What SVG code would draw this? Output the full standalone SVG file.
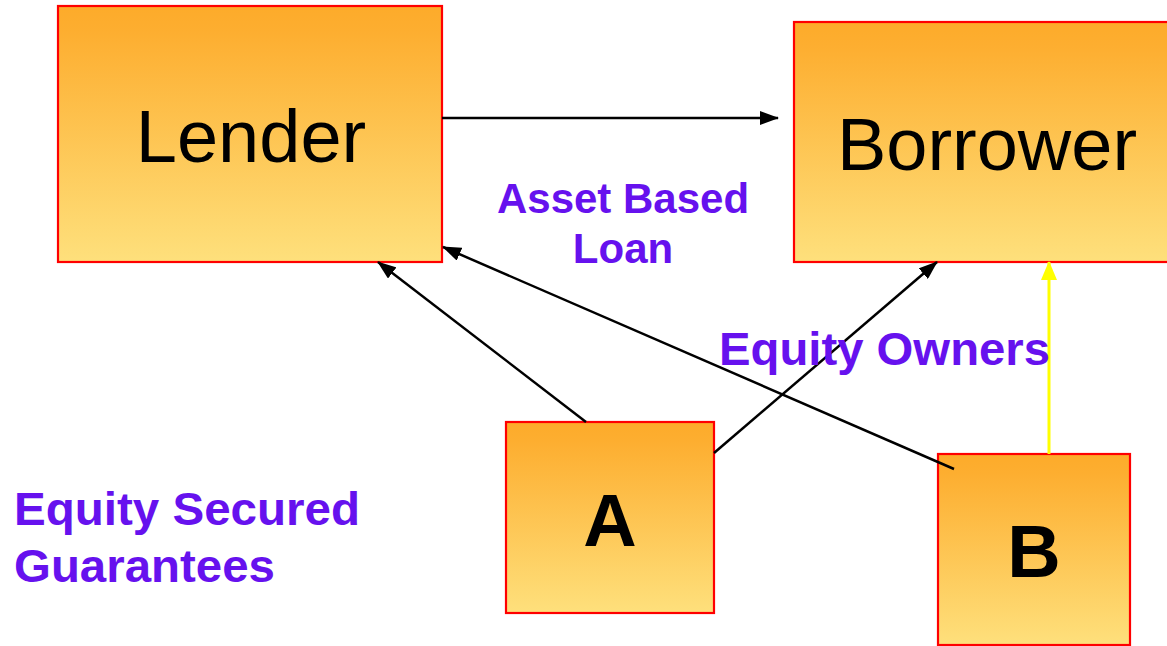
<svg xmlns="http://www.w3.org/2000/svg" width="1167" height="646" viewBox="0 0 1167 646">
<defs>
<linearGradient id="g" x1="0" y1="0" x2="0" y2="1">
<stop offset="0" stop-color="#FDAB2A"/>
<stop offset="0.1" stop-color="#FDAE30"/>
<stop offset="1" stop-color="#FEE07C"/>
</linearGradient>
<marker id="ab" markerWidth="19" markerHeight="14" refX="18" refY="7" orient="auto" markerUnits="userSpaceOnUse">
<path d="M0,0 L19,7 L0,14 Z" fill="#000"/>
</marker>
<marker id="ay" markerWidth="19" markerHeight="16" refX="18" refY="8" orient="auto" markerUnits="userSpaceOnUse">
<path d="M0,0 L19,8 L0,16 Z" fill="#FFFF00"/>
</marker>
</defs>
<style>
.box{fill:url(#g);stroke:#FF0000;stroke-width:2.2}
.big{font-family:"Liberation Sans",Arial,sans-serif;font-size:74px;fill:#000;text-anchor:middle}
.let{font-family:"Liberation Sans",Arial,sans-serif;font-size:74px;font-weight:bold;fill:#000;text-anchor:middle}
.lbl{font-family:"Liberation Sans",Arial,sans-serif;font-weight:bold;fill:#6611EE}
.c{stroke:#000;stroke-width:2.5;fill:none;marker-end:url(#ab)}
.cy{stroke:#FFFF00;stroke-width:3;fill:none;marker-end:url(#ay)}
</style>
<rect width="1167" height="646" fill="#fff"/>
<g id="lender"><rect class="box" x="58" y="6" width="384" height="256"/><text class="big" x="251" y="162">Lender</text></g>
<g id="borrower"><rect class="box" x="794" y="22" width="380" height="240"/><text class="big" x="987" y="170">Borrower</text></g>
<g id="a"><rect class="box" x="506" y="422" width="208" height="191"/><text class="let" x="610" y="546">A</text></g>
<g id="b"><rect class="box" x="938" y="454" width="192" height="191"/><text class="let" x="1034" y="577">B</text></g>
<g id="connectors">
<line class="c" x1="442" y1="118" x2="778" y2="118"/>
<line class="c" x1="586" y1="422" x2="378" y2="262"/>
<line class="c" x1="954" y1="469" x2="443" y2="247"/>
<line class="c" x1="714" y1="453" x2="937" y2="262"/>
<line class="cy" x1="1049" y1="454" x2="1049" y2="262"/>
</g>
<g id="labels">
<text class="lbl" x="623" y="213" font-size="42" text-anchor="middle">Asset Based</text>
<text class="lbl" x="623" y="263" font-size="42" text-anchor="middle">Loan</text>
<text class="lbl" x="719" y="365" font-size="46" textLength="331" lengthAdjust="spacingAndGlyphs">Equity Owners</text>
<text class="lbl" x="14" y="525" font-size="47" textLength="346" lengthAdjust="spacingAndGlyphs">Equity Secured</text>
<text class="lbl" x="14" y="582" font-size="47" textLength="261" lengthAdjust="spacingAndGlyphs">Guarantees</text>
</g>
</svg>
